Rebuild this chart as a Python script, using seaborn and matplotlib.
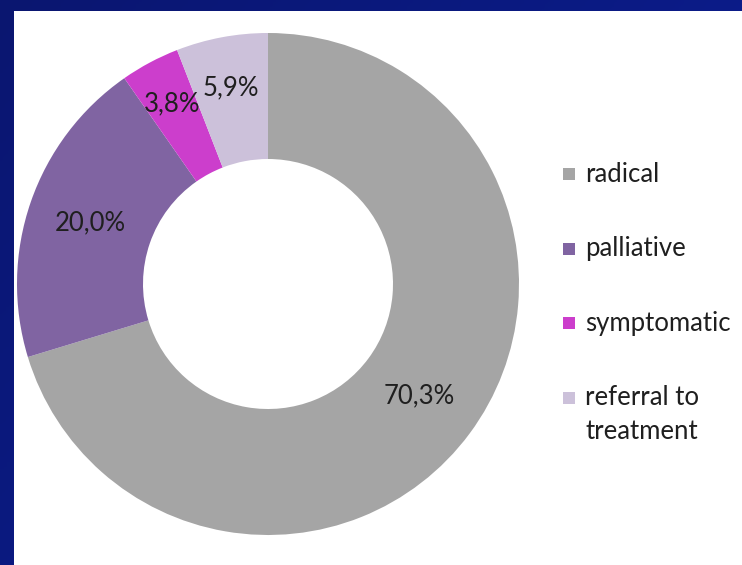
import numpy as np
import matplotlib
matplotlib.use("Agg")
import matplotlib.pyplot as plt
from matplotlib.patches import Rectangle
import seaborn as sns

# Treatment intent shares (%)
categories = ["radical", "palliative", "symptomatic", "referral to\ntreatment"]
shares = [70.3, 20.0, 3.8, 5.9]
value_labels = ["70,3%", "20,0%", "3,8%", "5,9%"]
colors = ["#A5A5A5", "#8064A2", "#CC3ECC", "#CCC1DA"]

sns.set_theme(style="white")
plt.rcParams["font.family"] = ["Lato", "DejaVu Sans"]

W, H = 742, 565
FS = 18.5
fig = plt.figure(figsize=(W / 100, H / 100), dpi=100)

# navy slide background with a soft gradient
bg = fig.add_axes([0, 0, 1, 1])
grad = np.linspace(0, 1, 256)[None, :] * 0.6 + np.linspace(0, 1, 256)[:, None] * 0.4
bg.imshow(grad, cmap=matplotlib.colors.LinearSegmentedColormap.from_list(
    "navy", ["#0A1670", "#0C1F98"]), aspect="auto", extent=[0, 1, 0, 1])
bg.set_axis_off()

# drawing area in pixel units (y upwards)
ax = fig.add_axes([0, 0, 1, 1])
ax.set_axis_off()
ax.add_patch(Rectangle((14, 0), W - 14, H - 11, facecolor="white", edgecolor="none", zorder=0))

cx, cy = 268, H - 284
R_out, R_in = 251, 125
wedges, _ = ax.pie(
    shares, colors=colors, startangle=90, counterclock=False,
    center=(cx, cy), radius=R_out, frame=True,
    wedgeprops=dict(width=R_out - R_in, edgecolor="none", linewidth=0),
)

# value labels placed along each wedge's mid-angle
label_radius = [188, 188, 204, 200]
start = 90.0
for val, txt, r in zip(shares, value_labels, label_radius):
    sweep = val / sum(shares) * 360
    mid = np.deg2rad(start - sweep / 2)
    start -= sweep
    ax.text(cx + r * np.cos(mid), cy + r * np.sin(mid), txt,
            ha="center", va="center", fontsize=FS, color="#1F1F1F")

# legend
for i, (name, col) in enumerate(zip(categories, colors)):
    y = H - (174 + 74.5 * i)
    ax.add_patch(Rectangle((563, y - 6), 12, 12, facecolor=col, edgecolor="none"))
    lines = name.split("\n")
    for j, line in enumerate(lines):
        ax.text(585, y - 34 * j, line, ha="left", va="center",
                fontsize=FS, color="#1F1F1F")

ax.set_xlim(0, W)
ax.set_ylim(0, H)
ax.set_aspect("auto")

fig.savefig("out.png", dpi=100)
